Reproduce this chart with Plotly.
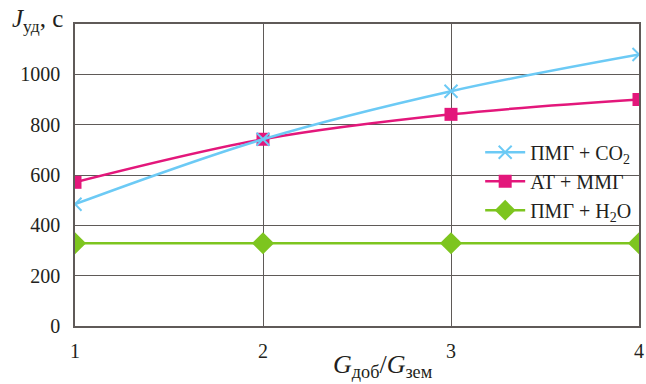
import plotly.graph_objects as go

# Отношение расходов G_доб / G_зем
ratio = [1, 2, 3, 4]

# Удельный импульс J_уд, с
j_pmg_co2 = [484, 742, 933, 1079]
j_at_mmg = [571, 742, 841, 900]
j_pmg_h2o = [329, 329, 329, 329]

names = ["ПМГ + CO<sub>2</sub>", "АТ + ММГ", "ПМГ + H<sub>2</sub>O"]
y_ticks = [0, 200, 400, 600, 800, 1000]
x_ticks = [1, 2, 3, 4]

SERIF = "Liberation Serif, Times New Roman, serif"
GRID = "#5f5a58"
TEXT = "#231f20"
TICKFONT = dict(family=SERIF, size=20, color=TEXT)

fig = go.Figure()
fig.add_trace(go.Scatter(
    x=ratio, y=j_pmg_h2o, name=names[2], mode="lines+markers",
    line=dict(color="#7dc51f", width=2.5, shape="spline"),
    marker=dict(symbol="diamond", size=17, color="#7dc51f"),
    legendrank=3,
))
fig.add_trace(go.Scatter(
    x=ratio, y=j_at_mmg, name=names[1], mode="lines+markers",
    line=dict(color="#e3177b", width=2.5, shape="spline"),
    marker=dict(symbol="square", size=13, color="#e3177b"),
    legendrank=2,
))
fig.add_trace(go.Scatter(
    x=ratio, y=j_pmg_co2, name=names[0], mode="lines+markers",
    line=dict(color="#6ccaf5", width=2.5, shape="spline"),
    marker=dict(symbol="x-thin", size=13, color="#6ccaf5",
                line=dict(color="#6ccaf5", width=2)),
    legendrank=1,
))

fig.update_layout(
    width=646, height=384,
    margin=dict(l=75, r=7, t=24, b=58),
    paper_bgcolor="white", plot_bgcolor="white",
    font=dict(family=SERIF, size=19, color=TEXT),
    showlegend=True,
    legend=dict(
        x=0.995, xanchor="right", y=0.64, yanchor="top",
        bgcolor="rgba(0,0,0,0)", borderwidth=0,
        font=dict(family=SERIF, size=20, color=TEXT),
        itemwidth=40, tracegroupgap=0,
    ),
    xaxis=dict(
        range=[1, 4], tickvals=x_ticks, ticktext=[str(v) for v in x_ticks],
        tickfont=TICKFONT,
        showgrid=True, gridcolor=GRID, gridwidth=1,
        showline=True, linecolor=GRID, linewidth=1.5, mirror=True,
        ticks="outside", ticklen=6, tickcolor="rgba(0,0,0,0)",
        zeroline=False, automargin=False,
    ),
    yaxis=dict(
        range=[0, 1200], tickvals=y_ticks, ticktext=[str(v) for v in y_ticks],
        tickfont=TICKFONT,
        showgrid=True, gridcolor=GRID, gridwidth=1,
        showline=True, linecolor=GRID, linewidth=1.5, mirror=True,
        ticks="outside", ticklen=9, tickcolor="rgba(0,0,0,0)",
        zeroline=False, automargin=False,
    ),
    annotations=[
        dict(
            text="<i>J</i><sub>уд</sub>, с", xref="paper", yref="paper",
            x=0, y=1, xanchor="right", yanchor="middle", xshift=-10, yshift=4,
            showarrow=False, font=dict(family=SERIF, size=25, color=TEXT),
        ),
        dict(
            text="<i>G</i><sub>доб</sub>/<i>G</i><sub>зем</sub>",
            xref="paper", yref="paper", x=0.546, y=0,
            xanchor="center", yanchor="middle", yshift=-40,
            showarrow=False, font=dict(family=SERIF, size=26, color=TEXT),
        ),
    ],
)

fig.write_html("out.html")
